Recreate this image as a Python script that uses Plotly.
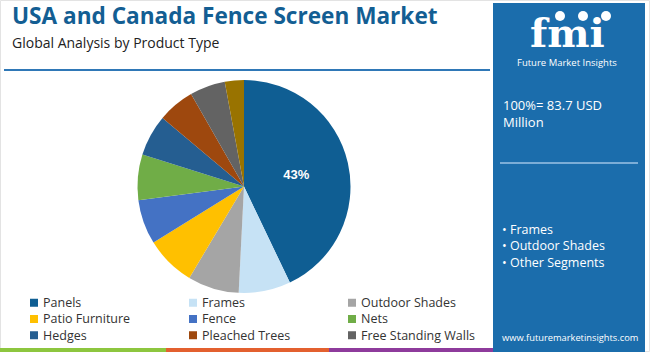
import plotly.graph_objects as go

W, H = 650, 352

labels = ["Panels", "Frames", "Outdoor Shades", "Patio Furniture", "Fence", "Nets",
          "Hedges", "Pleached Trees", "Free Standing Walls", "Others"]
values = [43.0, 7.9, 7.8, 7.6, 6.8, 6.9, 6.3, 5.6, 5.4, 2.9]
colors = ["#0f5e93", "#c6e2f5", "#a5a5a5", "#ffc000", "#4472c4", "#70ad47",
          "#255e91", "#9e480e", "#636363", "#997300"]
slice_text = ["<b>43%</b>", "", "", "", "", "", "", "", "", ""]

legend_labels = labels[:9]
panel_bullets = ["Frames", "Outdoor Shades", "Other Segments"]

TITLE_BLUE = "#135e93"
PANEL_BLUE = "#1b6dac"
FONT = "Open Sans"


def px(x):
    return x / W


def py(y):
    return 1 - y / H


fig = go.Figure()
fig.add_trace(go.Pie(
    labels=labels, values=values, sort=False, direction="clockwise", rotation=0,
    marker=dict(colors=colors, line=dict(width=0)),
    text=slice_text, textinfo="text", textposition="inside",
    insidetextorientation="horizontal",
    textfont=dict(color="white", size=13, family="Liberation Sans, Arial"),
    domain=dict(x=[px(137), px(351)], y=[py(293), py(80)]),
    showlegend=False, hoverinfo="skip",
))

shapes = []
annotations = []

# outer border
shapes.append(dict(type="rect", xref="paper", yref="paper", x0=px(0.5), x1=px(649.5),
                   y0=py(351.5), y1=py(0.5), line=dict(color="#e3e3e3", width=1)))
# header line
shapes.append(dict(type="line", xref="paper", yref="paper", x0=px(4), x1=px(490),
                   y0=py(70), y1=py(70), line=dict(color="#2f78b7", width=2)))
# bottom strip
for x0, x1, c in [(0, 166, "#8dc63f"), (166, 329, "#e3602f"), (329, 494, "#8e3b9c")]:
    shapes.append(dict(type="rect", xref="paper", yref="paper", x0=px(x0), x1=px(x1),
                       y0=py(352), y1=py(348), fillcolor=c, line=dict(width=0)))
# right panel
shapes.append(dict(type="rect", xref="paper", yref="paper", x0=px(493), x1=px(645),
                   y0=py(352), y1=py(3), fillcolor=PANEL_BLUE, line=dict(width=0)))
shapes.append(dict(type="line", xref="paper", yref="paper", x0=px(500), x1=px(638),
                   y0=py(163), y1=py(163), line=dict(color="#9cc3e6", width=1.5)))
# logo icons
for cx in [560, 583, 606]:
    shapes.append(dict(type="circle", xref="paper", yref="paper", x0=px(cx - 5), x1=px(cx + 5),
                       y0=py(21), y1=py(11), fillcolor="white", line=dict(width=0)))

# titles
annotations.append(dict(text="<b>USA and Canada Fence Screen Market</b>", x=px(11), y=py(16),
                        xref="paper", yref="paper", xanchor="left", yanchor="middle",
                        showarrow=False, borderpad=0,
                        font=dict(size=22.6, color=TITLE_BLUE, family=FONT)))
annotations.append(dict(text="Global Analysis by Product Type", x=px(11), y=py(42),
                        xref="paper", yref="paper", xanchor="left", yanchor="middle",
                        showarrow=False, borderpad=0,
                        font=dict(size=14, color="#222222", family=FONT)))

# logo text
annotations.append(dict(text="<b>fmi</b>", x=px(567), y=py(32), xref="paper", yref="paper",
                        xanchor="center", yanchor="middle", showarrow=False, borderpad=0,
                        font=dict(size=40, color="white", family="DejaVu Serif")))
annotations.append(dict(text="Future Market Insights", x=px(567), y=py(63), xref="paper", yref="paper",
                        xanchor="center", yanchor="middle", showarrow=False, borderpad=0,
                        font=dict(size=9.5, color="white", family=FONT)))

# panel texts
annotations.append(dict(text="100%= 83.7 USD<br>Million", x=px(501), y=py(113), xref="paper",
                        yref="paper", xanchor="left", yanchor="middle", align="left",
                        showarrow=False, font=dict(size=13, color="white", family=FONT)))
annotations.append(dict(text="<br>".join("• " + b for b in panel_bullets), x=px(500), y=py(246),
                        xref="paper", yref="paper", xanchor="left", yanchor="middle",
                        align="left", showarrow=False,
                        font=dict(size=12.5, color="white", family=FONT)))
annotations.append(dict(text="www.futuremarketinsights.com", x=px(570), y=py(337), xref="paper",
                        yref="paper", xanchor="center", yanchor="middle", showarrow=False,
                        font=dict(size=9.3, color="white", family=FONT)))

# legend (manual, 3 columns, one text block per column)
col_x = [30, 189, 348]
mid_y = 319
line_h = 12.5 * 1.3
for c in range(3):
    col_labels = [legend_labels[r * 3 + c] for r in range(3)]
    for r in range(3):
        y = mid_y + (r - 1) * line_h
        shapes.append(dict(type="rect", xref="paper", yref="paper", x0=px(col_x[c]),
                           x1=px(col_x[c] + 8), y0=py(y + 4), y1=py(y - 4),
                           fillcolor=colors[r * 3 + c], line=dict(width=0)))
    annotations.append(dict(text="<br>".join(col_labels), x=px(col_x[c] + 11), y=py(mid_y),
                            xref="paper", yref="paper", xanchor="left", yanchor="middle",
                            align="left", showarrow=False,
                            font=dict(size=12.5, color="#333333", family=FONT)))

fig.update_layout(
    width=W, height=H, margin=dict(l=0, r=0, t=0, b=0),
    paper_bgcolor="white", plot_bgcolor="white",
    shapes=shapes, annotations=annotations, showlegend=False,
)

fig.write_html("out.html")
